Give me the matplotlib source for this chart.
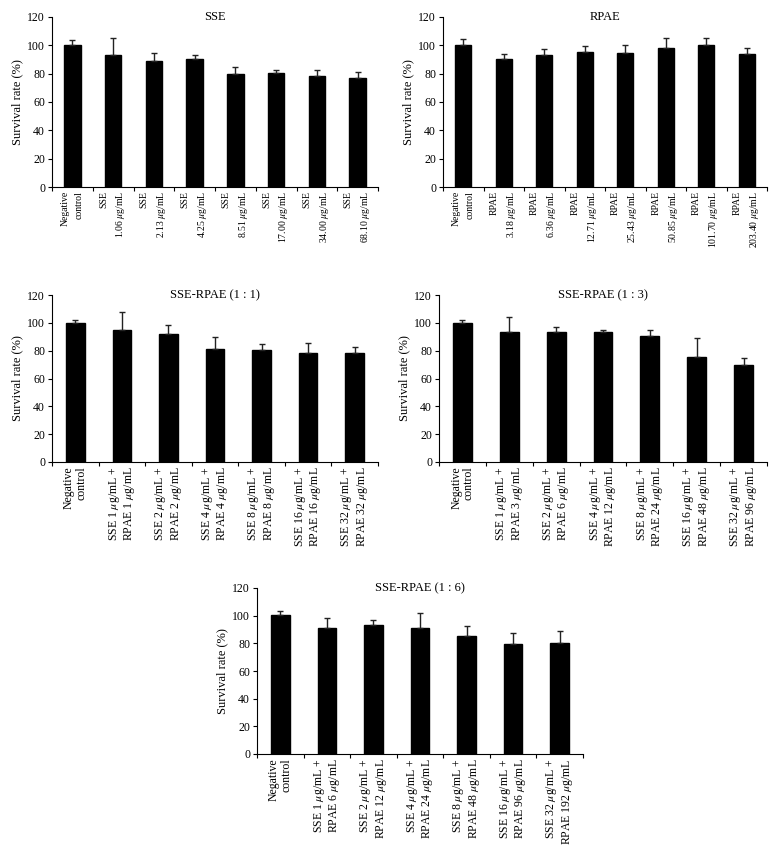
import numpy as np
import matplotlib
matplotlib.use("Agg")
import matplotlib.pyplot as plt

plt.rcParams["font.family"] = ["Liberation Serif", "DejaVu Serif"]
plt.rcParams["mathtext.fontset"] = "stix"

MU = r"$\mu$g/mL"

# --- data ---
sse_labels = ["Negative\ncontrol"] + [f"SSE\n{c} {MU}" for c in
              ["1.06", "2.13", "4.25", "8.51", "17.00", "34.00", "68.10"]]
sse_vals = [100.0, 93.5, 88.8, 90.2, 80.0, 80.2, 78.1, 76.9]
sse_err = [3.8, 11.5, 5.5, 3.1, 4.5, 2.2, 4.3, 4.1]

rpae_labels = ["Negative\ncontrol"] + [f"RPAE\n{c} {MU}" for c in
               ["3.18", "6.36", "12.71", "25.43", "50.85", "101.70", "203.40"]]
rpae_vals = [100.0, 90.5, 93.1, 95.2, 94.3, 98.3, 100.2, 93.8]
rpae_err = [4.3, 3.3, 4.3, 4.3, 5.9, 6.9, 4.8, 4.1]

sse_doses = [1, 2, 4, 8, 16, 32]
mix11_labels = ["Negative\ncontrol"] + [f"SSE {s} {MU} +\nRPAE {s} {MU}" for s in sse_doses]
mix11_vals = [99.8, 94.5, 92.0, 81.4, 80.7, 78.1, 78.3]
mix11_err = [2.4, 13.5, 6.6, 8.5, 3.9, 7.2, 4.4]

mix13_labels = ["Negative\ncontrol"] + [f"SSE {s} {MU} +\nRPAE {s * 3} {MU}" for s in sse_doses]
mix13_vals = [100.0, 93.7, 93.3, 93.3, 90.8, 75.7, 69.4]
mix13_err = [2.2, 10.3, 4.0, 1.2, 4.4, 13.2, 5.1]

mix16_labels = ["Negative\ncontrol"] + [f"SSE {s} {MU} +\nRPAE {s * 6} {MU}" for s in sse_doses]
mix16_vals = [100.7, 91.0, 93.0, 90.8, 85.3, 79.2, 80.0]
mix16_err = [2.4, 7.0, 3.9, 11.1, 7.5, 8.0, 8.6]


def draw_panel(ax, title, labels, vals, errs, xsize, lsp):
    n = len(vals)
    x = np.arange(n)
    ax.bar(x, vals, width=0.4, color="black", edgecolor="black", zorder=2)
    ax.errorbar(x, vals, yerr=[np.zeros(n), errs], fmt="none",
                ecolor="#222222", elinewidth=1.0, capsize=2.5, capthick=1.0,
                zorder=3)
    ax.set_xlim(-0.5, n - 0.5)
    ax.set_ylim(0, 120)
    ax.set_yticks(np.arange(0, 121, 20))
    ax.tick_params(axis="y", labelsize=8.5, length=3, width=0.8, pad=2)
    ax.set_xticks(x)
    ax.set_xticklabels(labels, rotation=90, fontsize=xsize,
                       multialignment="right", linespacing=lsp)
    ax.tick_params(axis="x", which="major", length=0, pad=3)
    ax.set_xticks(np.arange(n + 1) - 0.5, minor=True)
    ax.tick_params(axis="x", which="minor", length=3, width=0.8)
    for s in ("top", "right"):
        ax.spines[s].set_visible(False)
    for s in ("left", "bottom"):
        ax.spines[s].set_linewidth(0.8)
    ax.set_ylabel("Survival rate (%)", fontsize=9, labelpad=3)
    ax.text(0.5, 1.0, title, transform=ax.transAxes, ha="center",
            va="center", fontsize=9)


W, H = 776, 864
fig = plt.figure(figsize=(W / 100, H / 100), dpi=100)


def add_axes(left, top, right, bottom):
    return fig.add_axes([left / W, 1 - bottom / H, (right - left) / W, (bottom - top) / H])


ax1 = add_axes(52, 17, 378, 187)
ax2 = add_axes(443, 17, 767, 187)
ax3 = add_axes(52, 295, 378, 462)
ax4 = add_axes(439, 295, 767, 462)
ax5 = add_axes(257, 588, 583, 754)

draw_panel(ax1, "SSE", sse_labels, sse_vals, sse_err, 7, 1.7)
draw_panel(ax2, "RPAE", rpae_labels, rpae_vals, rpae_err, 7, 1.7)
draw_panel(ax3, "SSE-RPAE (1 : 1)", mix11_labels, mix11_vals, mix11_err, 8.5, 1.05)
draw_panel(ax4, "SSE-RPAE (1 : 3)", mix13_labels, mix13_vals, mix13_err, 8.5, 1.05)
draw_panel(ax5, "SSE-RPAE (1 : 6)", mix16_labels, mix16_vals, mix16_err, 8.5, 1.05)

fig.savefig("out.png", dpi=100, facecolor="white")
